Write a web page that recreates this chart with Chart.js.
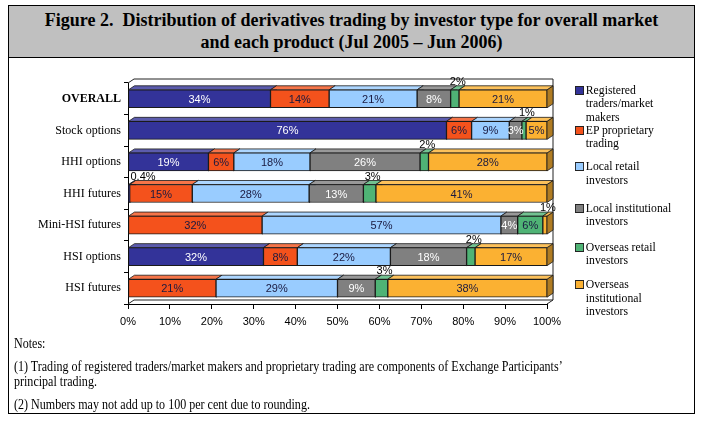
<!DOCTYPE html>
<html lang="en">
  <head>
    <meta charset="UTF-8" />
    <script src="https://cdn.jsdelivr.net/npm/chart.js"></script>
    <style>
      body {
        margin: 0;
        width: 702px;
        height: 421px;
        background: #fff;
        position: relative;
        overflow: hidden;
        font-family: "Liberation Serif", "Times New Roman", serif;
      }
      #box {
        position: absolute;
        left: 8px;
        top: 5px;
        width: 685px;
        height: 407px;
        border: 1px solid #000;
      }
      #title {
        position: absolute;
        left: 9px;
        top: 6px;
        width: 685px;
        height: 52px;
        background: #c0c0c0;
        border-bottom: 1px solid #000;
        font-weight: bold;
        font-size: 18px;
        line-height: 22px;
        text-align: center;
        padding-top: 3px;
        box-sizing: border-box;
        z-index: 2;
      }
      #chart {
        position: absolute;
        left: 0;
        top: 0;
        z-index: 1;
      }
      #legend {
        position: absolute;
        left: 575px;
        top: 0;
        width: 118px;
        font-size: 13px;
        line-height: 13.3px;
        transform: scaleX(0.9);
        transform-origin: 0 0;
        z-index: 2;
      }
      #legend .item {
        display: flex;
        align-items: flex-start;
      }
      #legend .sw {
        flex: none;
        width: 8px;
        height: 7px;
        border: 1px solid #222;
        margin: 3px 2px 0 0;
      }
      #legend .item:nth-child(1) { margin-top: 83px; }
      #legend .item:nth-child(2) { margin-top: 0; }
      #legend .item:nth-child(3) { margin-top: 10px; }
      #legend .item:nth-child(4) { margin-top: 15px; }
      #legend .item:nth-child(5) { margin-top: 12px; }
      #legend .item:nth-child(6) { margin-top: 11px; }
      #notes {
        position: absolute;
        left: 14px;
        top: 336px;
        width: 660px;
        font-size: 14px;
        line-height: 15.5px;
        transform: scaleX(0.86);
        transform-origin: 0 0;
        z-index: 2;
      }
      #notes p {
        margin: 0 0 7px 0;
      }
    </style>
  </head>
  <body>
    <div id="box"></div>
    <div id="title">
      Figure 2.&nbsp; Distribution of derivatives trading by investor type for overall market<br />
      and each product (Jul 2005 – Jun 2006)
    </div>
    <canvas id="chart" width="702" height="421"></canvas>
    <div id="legend"></div>
    <div id="notes">
      <p>Notes:</p>
      <p>(1) Trading of registered traders/market makers and proprietary trading are components of Exchange Participants’ principal trading.</p>
      <p>(2) Numbers may not add up to 100 per cent due to rounding.</p>
    </div>

    <script>
      const categories = [
        "OVERALL",
        "Stock options",
        "HHI options",
        "HHI futures",
        "Mini-HSI futures",
        "HSI options",
        "HSI futures",
      ];
      const investorTypes = [
        "Registered traders/market makers",
        "EP proprietary trading",
        "Local retail investors",
        "Local institutional investors",
        "Overseas retail investors",
        "Overseas institutional investors",
      ];
      // percentages as printed on the chart
      const registeredTraders = [34, 76, 19, 0.4, 0, 32, 0];
      const epProprietary = [14, 6, 6, 15, 32, 8, 21];
      const localRetail = [21, 9, 18, 28, 57, 22, 29];
      const localInstitutional = [8, 3, 26, 13, 4, 18, 9];
      const overseasRetail = [2, 1, 2, 3, 6, 2, 3];
      const overseasInstitutional = [21, 5, 28, 41, 1, 17, 38];
      const xTickValues = [0, 10, 20, 30, 40, 50, 60, 70, 80, 90, 100];

      const colors = ["#333399", "#f4521c", "#99ccff", "#808080", "#4fb375", "#fbb132"];
      const labelColors = ["#fff", "#1a1a40", "#1a1a40", "#fff", "#1a1a40", "#1a1a40"];
      const series = [
        registeredTraders,
        epProprietary,
        localRetail,
        localInstitutional,
        overseasRetail,
        overseasInstitutional,
      ];

      // chart is a 100% stacked bar, so scale each row to its total
      const rowTotals = categories.map((c, j) =>
        series.reduce((s, arr) => s + arr[j], 0)
      );

      const datasets = series.map((arr, i) => ({
        label: investorTypes[i],
        data: arr.map((v, j) => (v / rowTotals[j]) * 100),
        raw: arr,
        backgroundColor: colors[i],
        borderColor: "#1a1a1a",
        borderWidth: 1,
        borderSkipped: false,
        barThickness: 18,
      }));

      // html legend
      const legendEl = document.getElementById("legend");
      investorTypes.forEach((name, i) => {
        const item = document.createElement("div");
        item.className = "item";
        item.innerHTML =
          '<span class="sw" style="background:' + colors[i] + '"></span><span>' + name + "</span>";
        legendEl.appendChild(item);
      });

      function shade(hex, f) {
        const n = parseInt(hex.slice(1), 16);
        let r = (n >> 16) & 255, g = (n >> 8) & 255, b = n & 255;
        if (f > 0) {
          r += (255 - r) * f; g += (255 - g) * f; b += (255 - b) * f;
        } else {
          r *= 1 + f; g *= 1 + f; b *= 1 + f;
        }
        return "rgb(" + Math.round(r) + "," + Math.round(g) + "," + Math.round(b) + ")";
      }

      const DX = 6, DY = 4;

      const bar3d = {
        id: "bar3d",
        beforeDatasetsDraw(chart) {
          const ctx = chart.ctx;
          const a = chart.chartArea;
          // back wall / floor outline
          ctx.save();
          ctx.strokeStyle = "#222";
          ctx.lineWidth = 1;
          ctx.beginPath();
          ctx.moveTo(a.left, a.top);
          ctx.lineTo(a.left + DX, a.top - DY);
          ctx.lineTo(a.right + DX, a.top - DY);
          ctx.lineTo(a.right + DX, a.bottom - DY);
          ctx.lineTo(a.right, a.bottom);
          ctx.moveTo(a.left, a.bottom);
          ctx.lineTo(a.left + DX, a.bottom - DY);
          ctx.lineTo(a.right + DX, a.bottom - DY);
          ctx.stroke();

          const bars = [];
          chart.data.datasets.forEach((ds, i) => {
            chart.getDatasetMeta(i).data.forEach((bar) => {
              const p = bar.getProps(["x", "y", "base", "height"], true);
              const l = Math.min(p.x, p.base), r = Math.max(p.x, p.base);
              if (r - l < 0.5) return;
              bars.push({ l, r, t: p.y - p.height / 2, b: p.y + p.height / 2, c: colors[i] });
            });
          });
          ctx.lineWidth = 0.8;
          ctx.strokeStyle = "#1a1a1a";
          bars.forEach((s) => {
            ctx.beginPath();
            ctx.moveTo(s.r, s.t);
            ctx.lineTo(s.r + DX, s.t - DY);
            ctx.lineTo(s.r + DX, s.b - DY);
            ctx.lineTo(s.r, s.b);
            ctx.closePath();
            ctx.fillStyle = shade(s.c, -0.3);
            ctx.fill();
            ctx.stroke();
          });
          bars.forEach((s) => {
            ctx.beginPath();
            ctx.moveTo(s.l, s.t);
            ctx.lineTo(s.l + DX, s.t - DY);
            ctx.lineTo(s.r + DX, s.t - DY);
            ctx.lineTo(s.r, s.t);
            ctx.closePath();
            ctx.fillStyle = shade(s.c, 0.2);
            ctx.fill();
            ctx.stroke();
          });
          ctx.restore();
        },
        afterDatasetsDraw(chart) {
          const ctx = chart.ctx;
          ctx.save();
          ctx.font = "11px 'Liberation Sans', Arial, sans-serif";
          ctx.textBaseline = "middle";
          chart.data.datasets.forEach((ds, i) => {
            chart.getDatasetMeta(i).data.forEach((bar, j) => {
              const v = ds.raw[j];
              if (!v) return;
              const p = bar.getProps(["x", "y", "base", "height"], true);
              const text = v + "%";
              const outside = v < 3 || (i === 4 && v < 4);
              if (outside) {
                ctx.fillStyle = "#000";
                if (v < 1) {
                  ctx.textAlign = "left";
                  ctx.fillText(text, p.base + 2, p.y - p.height / 2 - 8);
                } else {
                  ctx.textAlign = "center";
                  ctx.fillText(text, (p.x + p.base) / 2 + 3, p.y - p.height / 2 - 8);
                }
              } else {
                ctx.fillStyle = labelColors[i];
                ctx.textAlign = "center";
                ctx.fillText(text, (p.x + p.base) / 2, p.y + 1);
              }
            });
          });
          ctx.restore();
        },
      };

      new Chart(document.getElementById("chart"), {
        type: "bar",
        data: { labels: categories, datasets: datasets },
        options: {
          indexAxis: "y",
          responsive: false,
          animation: false,
          layout: { padding: { left: 0, right: 155, top: 83, bottom: 0 } },
          plugins: {
            legend: { display: false },
            tooltip: { enabled: false },
          },
          scales: {
            x: {
              stacked: true,
              min: 0,
              max: 100,
              afterFit: (scale) => {
                scale.height = 117;
              },
              afterBuildTicks: (scale) => {
                scale.ticks = xTickValues.map((v) => ({ value: v }));
              },
              ticks: {
                callback: (v) => v + "%",
                color: "#000",
                padding: 6,
                maxRotation: 0,
                font: { family: "'Liberation Sans', Arial, sans-serif", size: 11 },
              },
              grid: {
                drawOnChartArea: false,
                tickLength: 5,
                color: "#000",
              },
              border: { color: "#000", width: 1 },
            },
            y: {
              stacked: true,
              afterFit: (scale) => {
                scale.width = 128;
              },
              ticks: {
                color: "#000",
                padding: 3,
                font: (c) => ({
                  family: "'Liberation Serif', 'Times New Roman', serif",
                  size: 12,
                  weight: c.index === 0 ? "bold" : "normal",
                }),
              },
              grid: {
                drawOnChartArea: false,
                tickLength: 4,
                color: "#000",
              },
              border: { color: "#000", width: 1 },
            },
          },
        },
        plugins: [bar3d],
      });
    </script>
  </body>
</html>
